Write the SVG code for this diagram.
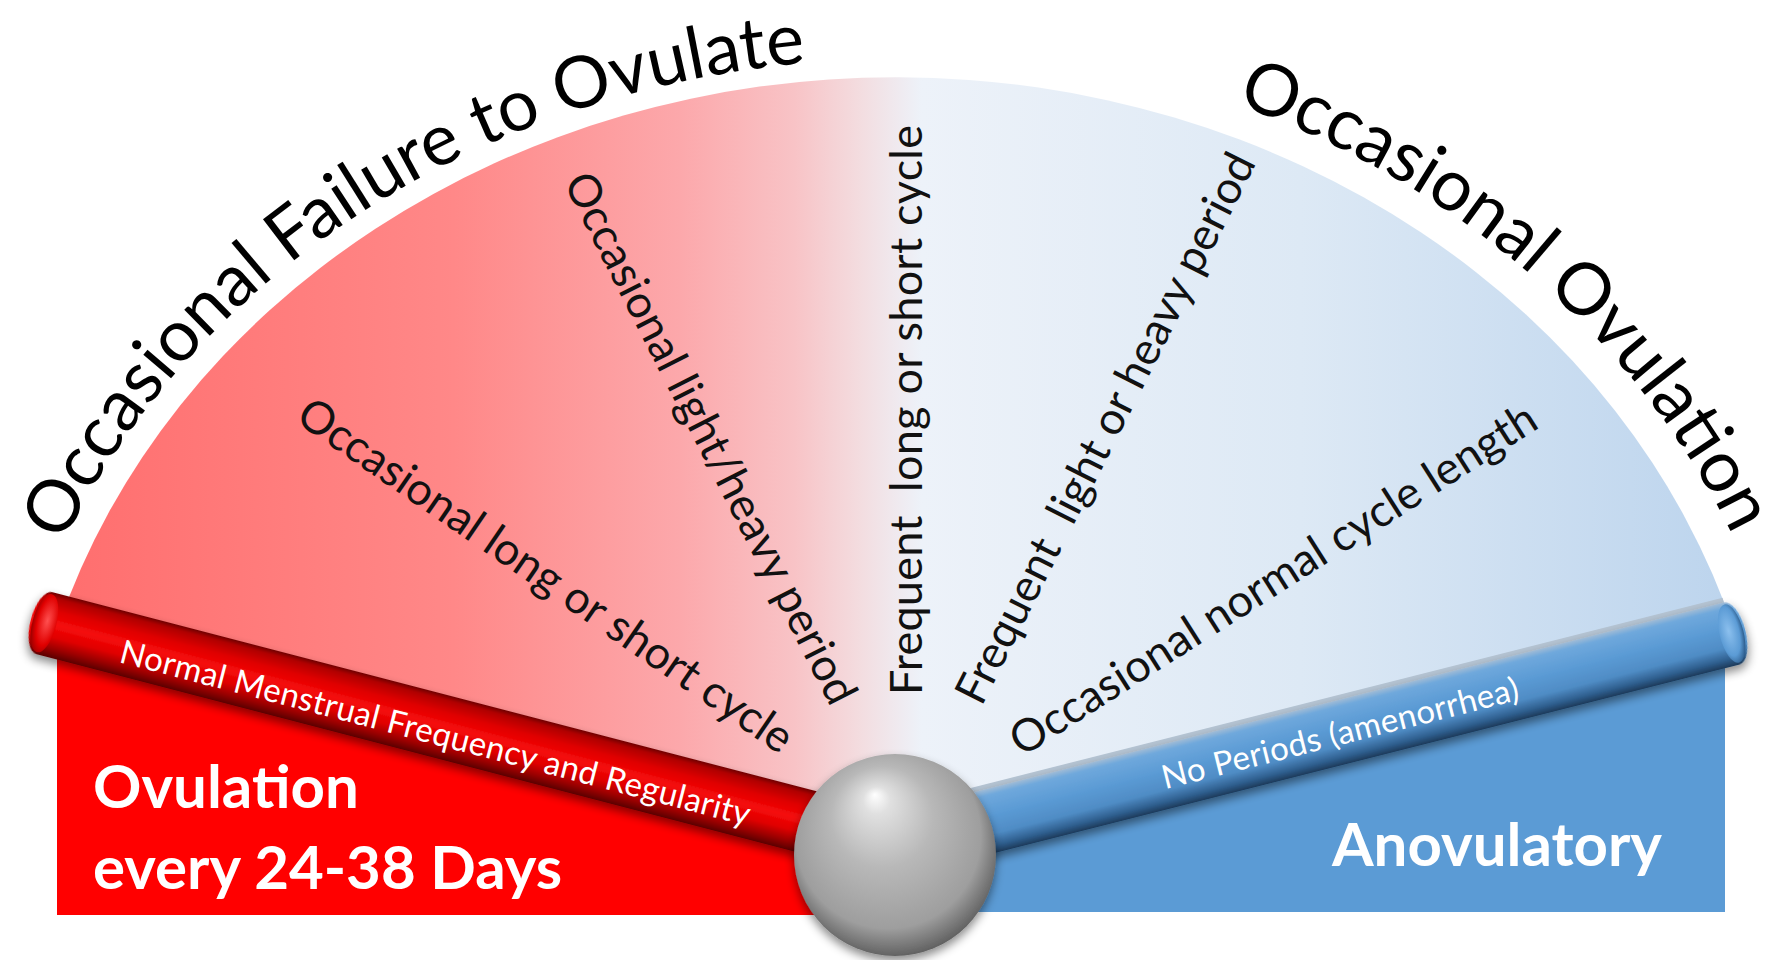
<svg xmlns="http://www.w3.org/2000/svg" width="1776" height="960" viewBox="0 0 1776 960">
<style>
.title{font-family:Lato,"Liberation Sans",sans-serif;font-size:72px;fill:#000}
.lbl{font-family:Lato,"Liberation Sans",sans-serif;font-size:45px;fill:#111;text-anchor:middle}
.barlbl{font-family:Lato,"Liberation Sans",sans-serif;font-size:33px;fill:#fff;text-anchor:middle}
.big{font-family:Lato,"Liberation Sans",sans-serif;font-weight:bold;font-size:60px;fill:#fff}
</style>
<defs>
<linearGradient id="fanGrad" gradientUnits="userSpaceOnUse" x1="58" y1="0" x2="1735" y2="0">
<stop offset="0" stop-color="#ff6e6e"/>
<stop offset="0.236" stop-color="#ff8888"/>
<stop offset="0.371" stop-color="#fca8ab"/>
<stop offset="0.439" stop-color="#f8c3c6"/>
<stop offset="0.479" stop-color="#f3dde0"/>
<stop offset="0.515" stop-color="#edf2f9"/>
<stop offset="0.741" stop-color="#dde9f5"/>
<stop offset="1" stop-color="#bcd4ed"/>
</linearGradient>
<linearGradient id="redBar" x1="0" y1="0" x2="0" y2="1">
<stop offset="0" stop-color="#6e0000"/>
<stop offset="0.08" stop-color="#b00000"/>
<stop offset="0.28" stop-color="#e00000"/>
<stop offset="0.48" stop-color="#f50a0a"/>
<stop offset="0.68" stop-color="#e00000"/>
<stop offset="0.86" stop-color="#9a0000"/>
<stop offset="1" stop-color="#5a0000"/>
</linearGradient>
<linearGradient id="blueBar" x1="0" y1="0" x2="0" y2="1">
<stop offset="0" stop-color="#9fbbd6"/>
<stop offset="0.1" stop-color="#6fa8dc"/>
<stop offset="0.4" stop-color="#5b9bd5"/>
<stop offset="0.7" stop-color="#4f8cc5"/>
<stop offset="0.88" stop-color="#2f5f8f"/>
<stop offset="1" stop-color="#1c3a5a"/>
</linearGradient>
<radialGradient id="capRed" cx="0.6" cy="0.45" r="0.6">
<stop offset="0" stop-color="#ff5050"/>
<stop offset="0.7" stop-color="#e00000"/>
<stop offset="1" stop-color="#a00000"/>
</radialGradient>
<radialGradient id="capBlue" cx="0.4" cy="0.45" r="0.6">
<stop offset="0" stop-color="#8cc0ee"/>
<stop offset="0.7" stop-color="#5b9bd5"/>
<stop offset="1" stop-color="#2f5f8f"/>
</radialGradient>
<radialGradient id="ballGrad" cx="0.48" cy="0.45" r="0.56" fx="0.4" fy="0.2">
<stop offset="0" stop-color="#ffffff"/>
<stop offset="0.12" stop-color="#e0e0e0"/>
<stop offset="0.45" stop-color="#b8b8b8"/>
<stop offset="0.82" stop-color="#9e9e9e"/>
<stop offset="1" stop-color="#5e5e5e"/>
</radialGradient>
<filter id="shadow" x="-10%" y="-40%" width="120%" height="200%">
<feDropShadow dx="0" dy="5" stdDeviation="5" flood-color="#000" flood-opacity="0.45"/>
</filter>
<path id="arcLeft" d="M 5 716 A 905 795 0 0 1 1053 71"/>
<path id="arcRight" d="M 1054 58 A 910 808 0 0 1 1775 645"/>
</defs>

<g id="fan">
<path d="M 58 627 A 875 774 0 0 1 1735 633 L 896 845 Z" fill="url(#fanGrad)"/>
</g>

<g id="red-panel">
<polygon points="57,626 896,845 896,915 57,915" fill="#ff0000"/>
<text class="big" x="93" y="808">Ovulation</text>
<text class="big" x="93" y="889">every 24-38 Days</text>
</g>

<g id="blue-panel">
<polygon points="896,840 1725,635 1725,912 896,912" fill="#5b9bd5"/>
<text class="big" x="1662" y="866" text-anchor="end">Anovulatory</text>
</g>

<g id="red-bar" transform="translate(896,845) rotate(14.6)">
<path d="M -880 -32 H 0 V 32 H -880 A 14 32 0 0 1 -880 -32 Z" fill="url(#redBar)" filter="url(#shadow)"/>
<ellipse cx="-880" cy="0" rx="12" ry="30" fill="url(#capRed)"/>
<text class="barlbl" x="-474" y="19" textLength="650" lengthAdjust="spacing">Normal Menstrual Frequency and Regularity</text>
</g>

<g id="blue-bar" transform="translate(896,845) rotate(-14.2)">
<line x1="0" y1="-34" x2="862" y2="-34" stroke="#b4c3d2" stroke-width="6"/>
<path d="M 0 -32 H 862 A 14 32 0 0 1 862 32 H 0 Z" fill="url(#blueBar)" filter="url(#shadow)"/>
<ellipse cx="862" cy="0" rx="12" ry="30" fill="url(#capBlue)"/>
<text class="barlbl" x="458" y="12" textLength="367" lengthAdjust="spacing">No Periods (amenorrhea)</text>
</g>

<g id="ball">
<circle cx="895" cy="855" r="101" fill="url(#ballGrad)" filter="url(#shadow)"/>
</g>

<g id="titles">
<text class="title"><textPath href="#arcLeft" startOffset="645" text-anchor="middle">Occasional Failure to Ovulate</textPath></text>
<text class="title"><textPath href="#arcRight" startOffset="525" text-anchor="middle">Occasional Ovulation</textPath></text>
</g>

<g id="labels">
<text class="lbl" transform="translate(546,575) rotate(34.5)" dy="0.35em" textLength="590" lengthAdjust="spacing">Occasional long or short cycle</text>
<text class="lbl" transform="translate(711,438) rotate(63)" dy="0.35em" textLength="590" lengthAdjust="spacing">Occasional light/heavy period</text>
<text class="lbl" transform="translate(906,410) rotate(-90)" dy="0.35em" textLength="570" lengthAdjust="spacing" xml:space="preserve">Frequent  long or short cycle</text>
<text class="lbl" transform="translate(1105,428) rotate(-63.2)" dy="0.35em" textLength="610" lengthAdjust="spacing" xml:space="preserve">Frequent  light or heavy period</text>
<text class="lbl" transform="translate(1273,579) rotate(-32.5)" dy="0.35em" textLength="615" lengthAdjust="spacing">Occasional normal cycle length</text>
</g>
</svg>
